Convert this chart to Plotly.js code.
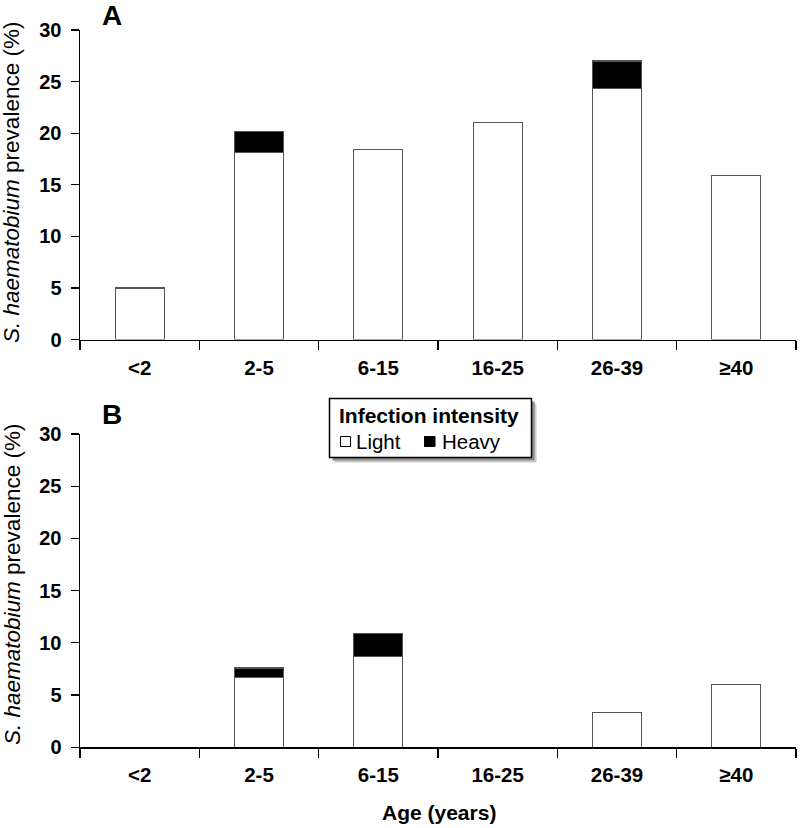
<!DOCTYPE html>
<html>
<head>
<meta charset="utf-8">
<script src="https://cdn.plot.ly/plotly-3.0.1.min.js"></script>
<style>html,body{margin:0;padding:0;background:#fff;}#chart{width:800px;height:828px;}</style>
</head>
<body>
<div id="chart"></div>
<script>
const ageGroups = ["<2", "2-5", "6-15", "16-25", "26-39", "≥40"];
const lightA = [5.0, 18.1, 18.4, 21.0, 24.3, 15.9];
const heavyA = [0, 2.1, 0, 0, 2.7, 0];
const lightB = [0, 6.7, 8.7, 0, 3.3, 6.0];
const heavyB = [0, 0.9, 2.2, 0, 0, 0];
const legendTitle = "Infection intensity";
const seriesNames = ["Light", "Heavy"];
const seriesColors = ["#ffffff", "#000000"];
const panelLabels = ["A", "B"];
const yTitle = "<i>S. haematobium</i> prevalence (%)";
const xTitle = "Age (years)";

const FONT = "Liberation Sans, Arial, sans-serif";
const barLine = {color: "#555", width: 1.2};
const W = 0.41;

const traces = [
  {type: "bar", x: ageGroups, y: lightA, name: seriesNames[0], showlegend: false,
   marker: {color: seriesColors[0], line: barLine}, width: W, xaxis: "x", yaxis: "y", hoverinfo: "skip"},
  {type: "bar", x: ageGroups, y: heavyA, name: seriesNames[1], showlegend: false,
   marker: {color: seriesColors[1], line: barLine}, width: W, xaxis: "x", yaxis: "y", hoverinfo: "skip"},
  {type: "bar", x: ageGroups, y: lightB, name: seriesNames[0], showlegend: false,
   marker: {color: seriesColors[0], line: barLine}, width: W, xaxis: "x2", yaxis: "y2", hoverinfo: "skip"},
  {type: "bar", x: ageGroups, y: heavyB, name: seriesNames[1], showlegend: false,
   marker: {color: seriesColors[1], line: barLine}, width: W, xaxis: "x2", yaxis: "y2", hoverinfo: "skip"}
];

const H = 828, L = 80, PW = 716;
function py(p) { return 1 - p / H; }
function px(p) { return (p - L) / PW; }

const xCommon = {
  type: "category", showgrid: false, zeroline: false, showline: true, linecolor: "#000", linewidth: 1.5,
  ticks: "outside", ticklen: 9, tickcolor: "#000", tickwidth: 1.2, tickson: "boundaries",
  tickfont: {family: FONT, size: 20.5, color: "#000", weight: "bold"}, ticklabelstandoff: 9,
  domain: [0, 1], fixedrange: true
};
const yCommon = {
  range: [0, 30], dtick: 5, showgrid: false, zeroline: false, showline: true, linecolor: "#000", linewidth: 1.5,
  ticks: "outside", ticklen: 8, tickcolor: "#000", tickwidth: 1.2,
  tickfont: {family: FONT, size: 20, color: "#000", weight: "bold"}, ticklabelstandoff: 5, fixedrange: true
};

// Legend geometry (pixels)
const LG = {x0: 329.5, x1: 531.5, y0: 398.5, y1: 457.5};

const shapes = [
  {type: "rect", xref: "paper", yref: "paper", x0: px(LG.x0 + 5), x1: px(LG.x1 + 5), y0: py(LG.y1 + 5), y1: py(LG.y0 + 5),
   fillcolor: "#c8c8c8", line: {width: 0}, layer: "above"},
  {type: "rect", xref: "paper", yref: "paper", x0: px(LG.x0 + 3), x1: px(LG.x1 + 3), y0: py(LG.y1 + 3), y1: py(LG.y0 + 3),
   fillcolor: "#8a8a8a", line: {width: 0}, layer: "above"},
  {type: "rect", xref: "paper", yref: "paper", x0: px(LG.x0), x1: px(LG.x1), y0: py(LG.y1), y1: py(LG.y0),
   fillcolor: "#fff", line: {color: "#000", width: 1.5}, layer: "above"},
  {type: "rect", xref: "paper", yref: "paper", x0: px(340.5), x1: px(350.5), y0: py(446.5), y1: py(436.5),
   fillcolor: seriesColors[0], line: {color: "#000", width: 1}, layer: "above"},
  {type: "rect", xref: "paper", yref: "paper", x0: px(424.5), x1: px(435), y0: py(446.5), y1: py(436.5),
   fillcolor: seriesColors[1], line: {color: "#000", width: 1}, layer: "above"}
];

const annotations = [
  {text: "<b>" + panelLabels[0] + "</b>", xref: "paper", yref: "paper", x: px(111.5), y: py(15.5), showarrow: false,
   font: {family: FONT, size: 28, color: "#000"}, xanchor: "center", yanchor: "middle", height: 26, valign: "middle"},
  {text: "<b>" + panelLabels[1] + "</b>", xref: "paper", yref: "paper", x: px(111.5), y: py(413.5), showarrow: false,
   font: {family: FONT, size: 28, color: "#000"}, xanchor: "center", yanchor: "middle", height: 26, valign: "middle"},
  {text: yTitle, xref: "paper", yref: "paper", x: px(12), y: py(183), textangle: -90, showarrow: false,
   font: {family: FONT, size: 22.5, color: "#000"}, xanchor: "center", yanchor: "middle"},
  {text: yTitle, xref: "paper", yref: "paper", x: px(12), y: py(585), textangle: -90, showarrow: false,
   font: {family: FONT, size: 22.5, color: "#000"}, xanchor: "center", yanchor: "middle"},
  {text: "<b>" + xTitle + "</b>", xref: "paper", yref: "paper", x: px(439), y: py(812), showarrow: false,
   font: {family: FONT, size: 21, color: "#000"}, xanchor: "center", yanchor: "middle"},
  {text: "<b>" + legendTitle + "</b>", xref: "paper", yref: "paper", x: px(336.5), y: py(415), showarrow: false,
   font: {family: FONT, size: 21, color: "#000"}, xanchor: "left", yanchor: "middle"},
  {text: seriesNames[0], xref: "paper", yref: "paper", x: px(354), y: py(441), showarrow: false,
   font: {family: FONT, size: 20.5, color: "#000"}, xanchor: "left", yanchor: "middle"},
  {text: seriesNames[1], xref: "paper", yref: "paper", x: px(439.5), y: py(441), showarrow: false,
   font: {family: FONT, size: 20.5, color: "#000"}, xanchor: "left", yanchor: "middle"}
];

const layout = {
  width: 800, height: 828,
  margin: {l: L, r: 4, t: 0, b: 0},
  paper_bgcolor: "#fff", plot_bgcolor: "#fff",
  barmode: "stack", showlegend: false,
  font: {family: FONT, color: "#000"},
  xaxis: Object.assign({}, xCommon, {anchor: "y"}),
  yaxis: Object.assign({}, yCommon, {domain: [py(339.5), py(30)], anchor: "x"}),
  xaxis2: Object.assign({}, xCommon, {anchor: "y2"}),
  yaxis2: Object.assign({}, yCommon, {domain: [py(747.3), py(434)], anchor: "x2"}),
  shapes: shapes,
  annotations: annotations
};

Plotly.newPlot("chart", traces, layout, {displayModeBar: false, staticPlot: true});
</script>
</body>
</html>
